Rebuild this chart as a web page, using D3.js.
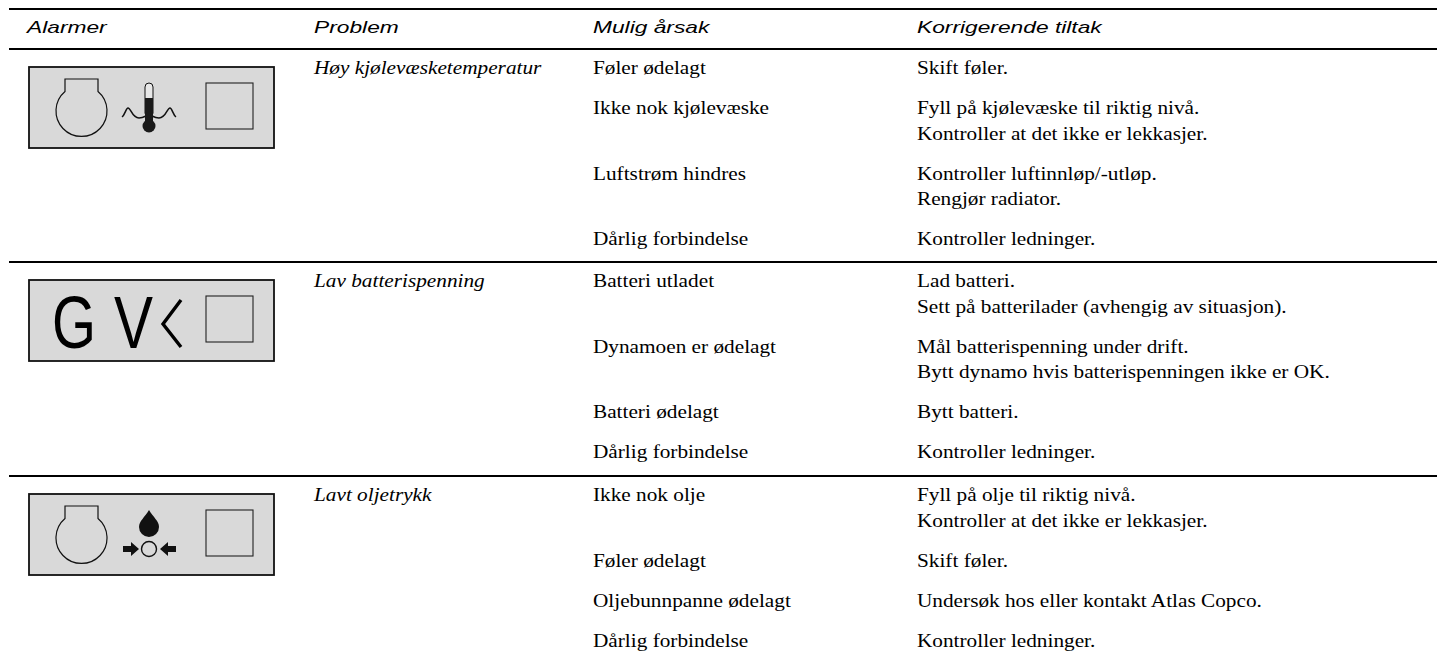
<!DOCTYPE html>
<html>
<head>
<meta charset="utf-8">
<script src="https://cdn.jsdelivr.net/npm/d3@7"></script>
<style>
body{margin:0;background:#fff;}
svg{display:block;}
</style>
</head>
<body>
<div id="chart-area"></div>
<script>
var headers=["Alarmer","Problem","Mulig årsak","Korrigerende tiltak"];
var columns=["alarm","problem","cause","action"];
var problems=["Høy kjølevæsketemperatur","Lav batterispenning","Lavt oljetrykk"];
var icons=["temp","volt","oil"];
var causes=[
    ["Føler ødelagt","Ikke nok kjølevæske","Luftstrøm hindres","Dårlig forbindelse"],
    ["Batteri utladet","Dynamoen er ødelagt","Batteri ødelagt","Dårlig forbindelse"],
    ["Ikke nok olje","Føler ødelagt","Oljebunnpanne ødelagt","Dårlig forbindelse"]
];
var actions=[
    [["Skift føler."],["Fyll på kjølevæske til riktig nivå.","Kontroller at det ikke er lekkasjer."],["Kontroller luftinnløp/-utløp.","Rengjør radiator."],["Kontroller ledninger."]],
    [["Lad batteri.","Sett på batterilader (avhengig av situasjon)."],["Mål batterispenning under drift.","Bytt dynamo hvis batterispenningen ikke er OK."],["Bytt batteri."],["Kontroller ledninger."]],
    [["Fyll på olje til riktig nivå.","Kontroller at det ikke er lekkasjer."],["Skift føler."],["Undersøk hos eller kontakt Atlas Copco."],["Kontroller ledninger."]]
];

var width=1437;
var height=658;
var svg=d3.select("#chart-area").append("svg")
    .attr("width",width)
    .attr("height",height);

var x=d3.scaleOrdinal().domain(columns).range([27,314,593,917]);
var left=9,right=1437;
var lineH=25.5,rowGap=14.5;
var sectionTop=[49,262,476];
var serif="'Liberation Serif','Times New Roman',serif";
var sans="'Liberation Sans',Arial,sans-serif";

function rule(y){
    svg.append("line").attr("x1",left).attr("x2",right)
        .attr("y1",y).attr("y2",y)
        .attr("stroke","#000").attr("stroke-width",2);
}
rule(9);
sectionTop.forEach(rule);

// text in the scan is wider than it is tall, so stretch it sideways
function label(px,py,str,fam,size,sx,italic){
    svg.append("text")
        .attr("transform","translate("+px+","+py+") scale("+sx+",1)")
        .attr("font-family",fam)
        .attr("font-style",italic?"italic":"normal")
        .attr("font-size",size+"px")
        .attr("fill","#000")
        .text(str);
}

headers.forEach((h,i)=>{
    label(x(columns[i]),33,h,sans,16.5,1.38,true);
});

problems.forEach((p,s)=>{
    var base=sectionTop[s]+25;
    label(x("problem"),base,p,serif,19,1.12,true);
    var y0=base;
    causes[s].forEach((c,r)=>{
        label(x("cause"),y0,c,serif,19,1.12,false);
        actions[s][r].forEach((t,k)=>{
            label(x("action"),y0+k*lineH,t,serif,19,1.12,false);
        });
        y0+=actions[s][r].length*lineH+rowGap;
    });
    drawIcon(icons[s],sectionTop[s]+18);
});

function drawIcon(kind,top){
    var g=svg.append("g").attr("transform","translate(29,"+top+")");
    g.append("rect").attr("width",245).attr("height",81)
        .attr("fill","#d9d9d9").attr("stroke","#111").attr("stroke-width",1.8);
    g.append("rect").attr("x",177).attr("y",16).attr("width",47).attr("height",46)
        .attr("fill","none").attr("stroke","#222").attr("stroke-width",1.1);
    if(kind!="volt"){
        g.append("path").attr("fill","none").attr("stroke","#111").attr("stroke-width",1.2)
            .attr("d","M36 12H69V24.5A25.5 25.5 0 1 1 36 24.5Z");
    }
    if(kind=="temp"){
        g.append("path").attr("fill","none").attr("stroke","#111").attr("stroke-width",1.5)
            .attr("d","M93 50C96 48 97 41 99 41C102 41 103 51 110 51C113 51 115 50 117 49");
        g.append("path").attr("fill","none").attr("stroke","#111").attr("stroke-width",1.5)
            .attr("d","M147 50C144 48 143 41 141 41C138 41 137 51 130 51C127 51 125 50 123 49");
        g.append("rect").attr("x",116).attr("y",16).attr("width",8).attr("height",34).attr("rx",4)
            .attr("fill","#e8e8e8").attr("stroke","#111").attr("stroke-width",1);
        g.append("rect").attr("x",116).attr("y",31).attr("width",8).attr("height",30).attr("fill","#1a1a1a");
        g.append("circle").attr("cx",120).attr("cy",59).attr("r",6.5).attr("fill","#1a1a1a");
    }
    if(kind=="volt"){
        ["G","V"].forEach((t,i)=>{
            g.append("text").attr("x",i==0?23:85).attr("y",68).attr("font-family",sans)
                .attr("font-size","75px").attr("fill","#000")
                .attr("textLength",i==0?44:39).attr("lengthAdjust","spacingAndGlyphs").text(t);
        });
        g.append("path").attr("fill","none").attr("stroke","#000").attr("stroke-width",3.4)
            .attr("d","M152 20L134 44L152 67");
    }
    if(kind=="oil"){
        g.append("path").attr("fill","#111")
            .attr("d","M120 16C124 23 130 27 130 33A10 10 0 0 1 110 33C110 27 116 23 120 16Z");
        g.append("circle").attr("cx",120).attr("cy",55).attr("r",7.5)
            .attr("fill","none").attr("stroke","#111").attr("stroke-width",1.4);
        g.append("path").attr("fill","#111").attr("d","M94 52H102V48L110 55L102 62V58H94Z");
        g.append("path").attr("fill","#111").attr("d","M147 52H139V48L131 55L139 62V58H147Z");
    }
}
</script>
</body>
</html>
